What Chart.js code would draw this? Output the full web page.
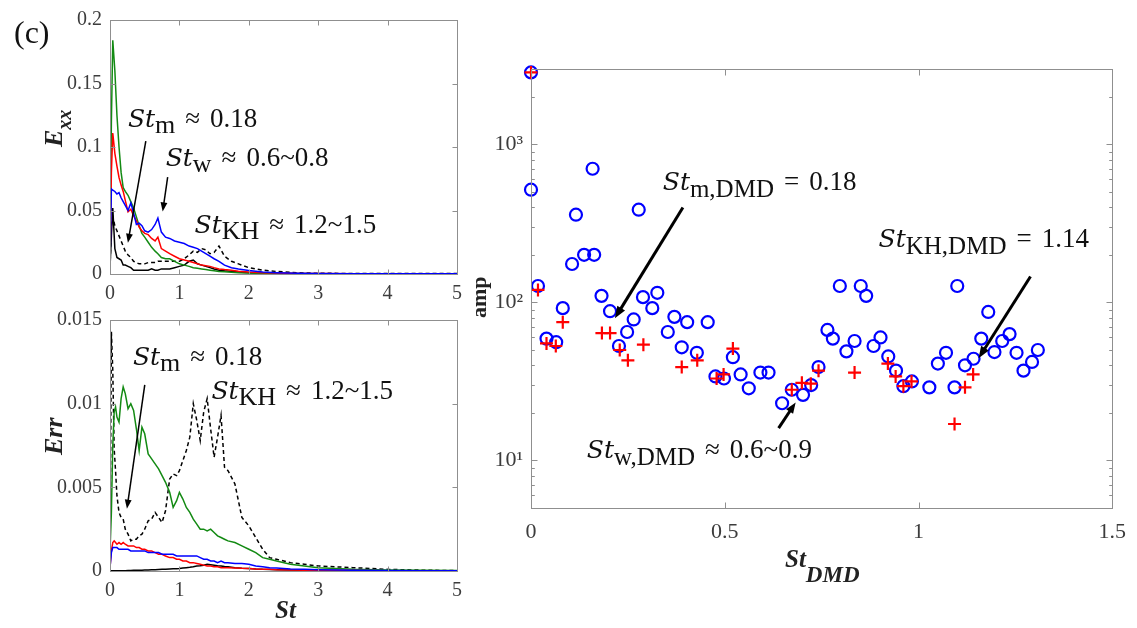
<!DOCTYPE html>
<html><head><meta charset="utf-8">
<script src="https://cdn.jsdelivr.net/npm/chart.js@4/dist/chart.umd.min.js"></script>
<style>
html,body{margin:0;padding:0;background:#fff;width:1137px;height:628px;overflow:hidden;position:relative}
canvas{position:absolute}
#c1{left:0;top:0}
#c2{left:0;top:300px}
#c3{left:460px;top:0}
</style></head><body>
<canvas id="c1" width="470" height="310"></canvas>
<canvas id="c2" width="470" height="328"></canvas>
<canvas id="c3" width="677" height="628"></canvas>
<script>
// ---------- data ----------
const ST_TOP = [0,0.02,0.04,0.07,0.10,0.13,0.16,0.19,0.22,0.26,0.30,0.34,0.38,0.42,0.46,0.50,0.55,0.60,0.65,0.69,0.74,0.80,0.86,0.93,1.00,1.07,1.14,1.20,1.26,1.32,1.38,1.44,1.50,1.57,1.65,1.75,1.85,2.0,2.2,2.4,2.7,3.0,3.5,4.0,4.5,5.0];
const EXX_GREEN = [0.015,0.12,0.184,0.160,0.125,0.100,0.080,0.068,0.065,0.062,0.057,0.052,0.045,0.038,0.032,0.029,0.025,0.021,0.018,0.016,0.013,0.012,0.012,0.010,0.008,0.007,0.006,0.005,0.0045,0.004,0.0035,0.003,0.0025,0.002,0.0017,0.0013,0.001,0.0008,0.0005,0.0004,0.0003,0.0002,0.0001,0.0001,0.0001,0.0001];
const EXX_RED = [0.01,0.08,0.111,0.095,0.085,0.076,0.070,0.065,0.058,0.049,0.051,0.046,0.042,0.037,0.034,0.032,0.031,0.028,0.026,0.029,0.020,0.018,0.016,0.014,0.012,0.011,0.010,0.009,0.008,0.007,0.0065,0.006,0.005,0.004,0.0035,0.003,0.0022,0.0015,0.001,0.0007,0.0004,0.0003,0.0002,0.0001,0.0001,0.0001];
const EXX_BLUE = [0.008,0.067,0.066,0.065,0.063,0.064,0.060,0.057,0.054,0.050,0.056,0.048,0.039,0.040,0.038,0.034,0.033,0.035,0.039,0.044,0.033,0.029,0.028,0.026,0.025,0.024,0.022,0.021,0.020,0.018,0.016,0.014,0.012,0.010,0.007,0.005,0.004,0.0028,0.0015,0.001,0.0006,0.0004,0.0002,0.0001,0.0001,0.0001];
const EXX_BLACK = [0.005,0.03,0.052,0.020,0.013,0.012,0.011,0.007,0.007,0.006,0.005,0.003,0.003,0.003,0.003,0.003,0.003,0.004,0.003,0.003,0.004,0.004,0.004,0.005,0.006,0.007,0.010,0.011,0.008,0.007,0.006,0.005,0.004,0.003,0.0025,0.002,0.0015,0.001,0.0006,0.0004,0.0002,0.0001,0.0001,0.0001,0.0001,0.0001];
const EXX_DASH = [0.005,0.04,0.045,0.038,0.034,0.030,0.026,0.022,0.018,0.015,0.013,0.010,0.009,0.008,0.008,0.008,0.009,0.009,0.009,0.010,0.010,0.010,0.010,0.010,0.010,0.012,0.015,0.018,0.017,0.020,0.019,0.016,0.017,0.022,0.014,0.010,0.008,0.005,0.003,0.002,0.001,0.0006,0.0004,0.0003,0.0003,0.0003];

const ST_BOT = [0,0.02,0.04,0.06,0.08,0.10,0.13,0.16,0.19,0.22,0.26,0.30,0.34,0.38,0.42,0.46,0.50,0.55,0.60,0.65,0.70,0.75,0.80,0.86,0.91,0.96,1.00,1.05,1.10,1.15,1.20,1.25,1.30,1.35,1.40,1.45,1.50,1.55,1.60,1.65,1.70,1.80,1.90,2.00,2.10,2.20,2.30,2.40,2.60,2.80,3.00,3.50,4.00,4.50,5.00];
const ERR_GREEN = [0.0012,0.0035,0.0075,0.0095,0.0098,0.0092,0.0089,0.0103,0.0110,0.0106,0.0097,0.0100,0.0096,0.0085,0.0072,0.0086,0.0082,0.0070,0.0067,0.0064,0.0061,0.0057,0.0053,0.0047,0.0038,0.0042,0.0047,0.0043,0.0038,0.0035,0.0031,0.0028,0.0025,0.0025,0.0024,0.0025,0.0023,0.0021,0.0020,0.0019,0.0018,0.0017,0.0015,0.0013,0.0011,0.0008,0.0007,0.0006,0.0004,0.0003,0.0002,0.0001,0.00006,0.00004,0.00003];
const ERR_DASH = [0.0005,0.0143,0.0120,0.0073,0.0060,0.0045,0.0035,0.0032,0.0031,0.0025,0.0022,0.0018,0.0019,0.0019,0.0021,0.0022,0.0025,0.0030,0.0031,0.0035,0.0032,0.0029,0.0036,0.0055,0.0058,0.0057,0.0060,0.0066,0.0072,0.0080,0.0100,0.0090,0.0078,0.0095,0.0103,0.0085,0.0068,0.0080,0.0093,0.0062,0.0060,0.0052,0.0032,0.0027,0.0020,0.0013,0.0008,0.0007,0.0005,0.0004,0.0003,0.0002,0.0001,0.00005,0.00002];
const ERR_RED = [0.0002,0.0012,0.0017,0.0018,0.0017,0.0016,0.0017,0.0016,0.0017,0.0016,0.0015,0.0015,0.0015,0.0014,0.0014,0.0013,0.0013,0.0012,0.0012,0.0011,0.0010,0.0010,0.0009,0.0008,0.0008,0.0007,0.0007,0.0006,0.0006,0.0005,0.0005,0.00045,0.0004,0.00035,0.0003,0.0003,0.00025,0.00025,0.0002,0.0002,0.0002,0.00018,0.00016,0.00015,0.00012,0.0001,0.0001,0.00008,0.00006,0.00005,0.00004,0.00003,0.00002,0.00002,0.00002];
const ERR_BLUE = [0.0002,0.0011,0.0014,0.0014,0.0014,0.0014,0.0013,0.0013,0.0013,0.0013,0.0013,0.0012,0.0012,0.0012,0.0012,0.0012,0.0012,0.0011,0.0011,0.0011,0.0011,0.0010,0.0010,0.0010,0.0010,0.0009,0.0009,0.0009,0.0009,0.0009,0.0009,0.0009,0.0008,0.0007,0.0007,0.0006,0.0006,0.0005,0.0006,0.0005,0.0005,0.00045,0.00045,0.0004,0.0003,0.00025,0.0002,0.00018,0.00012,0.0001,0.00008,0.00005,0.00003,0.00002,0.00002];
const ERR_BLACK = [0.00002,0.00002,0.00002,0.00002,0.00002,0.00002,0.00002,0.00002,0.00002,0.00002,0.00003,0.00003,0.00004,0.00004,0.00005,0.00005,0.00006,0.00006,0.00007,0.00008,0.00009,0.0001,0.00011,0.00012,0.00013,0.00014,0.00015,0.00018,0.0002,0.00022,0.00025,0.0003,0.00032,0.00035,0.0004,0.00038,0.00035,0.00032,0.0003,0.00027,0.00025,0.0002,0.00017,0.00015,0.00012,0.0001,0.00009,0.00008,0.00006,0.00005,0.00004,0.00003,0.00002,0.00002,0.00002];

const DMD_ST_BLUE = [0,0,0.018,0.040,0.065,0.082,0.106,0.116,0.137,0.159,0.163,0.182,0.204,0.227,0.248,0.265,0.278,0.289,0.313,0.326,0.353,0.370,0.389,0.403,0.428,0.456,0.476,0.498,0.521,0.541,0.562,0.592,0.613,0.648,0.673,0.702,0.723,0.742,0.765,0.779,0.797,0.814,0.835,0.851,0.865,0.884,0.902,0.922,0.942,0.961,0.983,1.028,1.050,1.071,1.093,1.100,1.120,1.142,1.162,1.180,1.196,1.216,1.235,1.253,1.271,1.293,1.308];
const DMD_AMP_BLUE = [2855,517,127,59,56,92,175,359,200,701,200,110,88,53,65,78,386,108,92,115,65,81,52,75,48,75,34,33,45,35,28.6,36,36,23,28,26,30,39,67,59,127,49,57,127,110,53,60,45.5,37,29.5,31.6,29,41,48,29,127,40,44,59,87,48.5,57,63,48,37,42,50];
const DMD_ST_RED = [0,0.018,0.040,0.064,0.082,0.183,0.204,0.229,0.250,0.290,0.389,0.429,0.479,0.497,0.521,0.673,0.699,0.722,0.742,0.835,0.921,0.941,0.961,0.982,1.093,1.120,1.141];
const DMD_AMP_RED = [2855,120,55,53,75,64,64,50,43,54,39,43,33,35,51,28,31,30.6,37,36,41,34,29.5,31.6,17,29,35];

const ST_TICKS = [0,1,2,3,4,5];
const EXX_TICKS = [0,0.05,0.1,0.15,0.2];
const ERR_TICKS = [0,0.005,0.01,0.015];
const DMD_TICKS = [0,0.5,1,1.5];
const AMP_TICKS = [5,6,7,8,9,10,20,30,40,50,60,70,80,90,100,200,300,400,500,600,700,800,900,1000,2000,3000];
const AMP_LABELS = {10:'10\u00B9',100:'10\u00B2',1000:'10\u00B3'};

// ---------- styling ----------
const SERIF = '"Liberation Serif","Times New Roman",serif';
const MATHI = '"DejaVu Serif",serif';
const AXIS_COLOR = '#8f8f8f';
const TICK_COLOR = '#3c3c3c';
const GREEN = '#138a13', RED = '#ff0000', BLUE = '#0000ff', BLACK = '#000000';

function pts(xs, ys){ return xs.map((x,i)=>({x:x, y:ys[i]})); }
function lineDs(xs, ys, color, dash){
  return {data:pts(xs,ys), borderColor:color, borderWidth:1.5, pointRadius:0, tension:0, fill:false, borderDash:dash||[]};
}

function drawRich(ctx, x, y, parts, rot){
  ctx.save(); ctx.translate(x,y); if(rot) ctx.rotate(rot);
  ctx.textAlign='left'; ctx.textBaseline='alphabetic';
  let cx=0;
  parts.forEach(p=>{ cx += p.gap||0; ctx.font=p.font; ctx.fillStyle=p.color||'#111';
    ctx.fillText(p.t, cx, p.dy||0); cx += ctx.measureText(p.t).width; });
  ctx.restore();
}
function drawArrow(ctx, x0,y0,x1,y1,lw,head){
  const ang=Math.atan2(y1-y0,x1-x0);
  const bx=x1-Math.cos(ang)*head*0.8, by=y1-Math.sin(ang)*head*0.8;
  ctx.save(); ctx.strokeStyle='#000'; ctx.fillStyle='#000'; ctx.lineWidth=lw;
  ctx.beginPath(); ctx.moveTo(x0,y0); ctx.lineTo(bx,by); ctx.stroke();
  ctx.beginPath(); ctx.moveTo(x1,y1);
  ctx.lineTo(x1-Math.cos(ang)*head+Math.sin(ang)*head*0.38, y1-Math.sin(ang)*head-Math.cos(ang)*head*0.38);
  ctx.lineTo(x1-Math.cos(ang)*head-Math.sin(ang)*head*0.38, y1-Math.sin(ang)*head+Math.cos(ang)*head*0.38);
  ctx.closePath(); ctx.fill(); ctx.restore();
}
function isDecade(v){ const l=Math.log10(v); return Math.abs(l-Math.round(l))<1e-9; }

function makeDecor(cfg){
  return {
    id:'decor',
    afterDraw(chart){
      const ctx=chart.ctx, a=chart.chartArea, xs=chart.scales.x, ys=chart.scales.y;
      ctx.save();
      ctx.strokeStyle=AXIS_COLOR; ctx.lineWidth=1;
      const L=Math.round(a.left)+0.5, T=Math.round(a.top)+0.5, R=Math.round(a.right)+0.5, B=Math.round(a.bottom)+0.5;
      ctx.strokeRect(L,T,R-L,B-T);
      ctx.beginPath();
      xs.ticks.forEach(t=>{ const x=Math.round(xs.getPixelForValue(t.value))+0.5; const len=cfg.tick;
        ctx.moveTo(x,B); ctx.lineTo(x,B-len); ctx.moveTo(x,T); ctx.lineTo(x,T+len); });
      ys.ticks.forEach(t=>{ const y=Math.round(ys.getPixelForValue(t.value))+0.5;
        const len = cfg.log ? (isDecade(t.value)?cfg.tick:cfg.tick*0.55) : cfg.tick;
        ctx.moveTo(L,y); ctx.lineTo(L+len,y); ctx.moveTo(R,y); ctx.lineTo(R-len,y); });
      ctx.stroke();
      (cfg.arrows||[]).forEach(ar=>drawArrow(ctx, xs.getPixelForValue(ar.x0), ys.getPixelForValue(ar.y0), xs.getPixelForValue(ar.x1), ys.getPixelForValue(ar.y1), ar.lw, ar.head));
      (cfg.notes||[]).forEach(n=>drawRich(ctx, xs.getPixelForValue(n.x), ys.getPixelForValue(n.y), n.parts));
      (cfg.titles||[]).forEach(n=>drawRich(ctx, n.px, n.py, n.parts, n.rot));
      ctx.restore();
    }
  };
}

function linScale(min,max,ticksArr,fitFn,pad,size){
  return {type:'linear', min:min, max:max,
    afterBuildTicks:s=>{ s.ticks = ticksArr.map(v=>({value:v})); },
    afterFit:fitFn,
    grid:{display:false, drawTicks:false}, border:{display:false},
    ticks:{padding:pad, color:TICK_COLOR, font:{family:SERIF, size:size}, autoSkip:false, maxRotation:0, callback:v=>String(v)}};
}

const ST_SUB = (sub, rest, dyS)=>[
  {t:'St', font:'italic 25px '+MATHI},
  {t:sub, font:'26px '+SERIF, dy:dyS||6},
  {t:'\u2248', font:'27px '+SERIF, gap:10},
  {t:rest, font:'27px '+SERIF, gap:10}
];

// ---------- chart 1: E_xx ----------
new Chart(document.getElementById('c1'), {
  type:'line',
  data:{datasets:[
    lineDs(ST_TOP, EXX_BLUE, BLUE),
    lineDs(ST_TOP, EXX_RED, RED),
    lineDs(ST_TOP, EXX_GREEN, GREEN),
    lineDs(ST_TOP, EXX_DASH, BLACK, [4,3]),
    lineDs(ST_TOP, EXX_BLACK, BLACK)
  ]},
  options:{responsive:false, animation:false, devicePixelRatio:1,
    layout:{padding:{top:14,right:11,left:0,bottom:0}},
    plugins:{legend:{display:false}, tooltip:{enabled:false}},
    scales:{
      x:linScale(0,5,ST_TICKS,s=>{s.height=36},8,20),
      y:linScale(0,0.2,EXX_TICKS,s=>{s.width=110},8,20)
    }},
  plugins:[makeDecor({tick:5,
    notes:[
      {x:0.258, y:0.1154, parts:ST_SUB('m','0.18')},
      {x:0.802, y:0.0854, parts:ST_SUB('w','0.6~0.8')},
      {x:1.218, y:0.0323, parts:ST_SUB('KH','1.2~1.5')}
    ],
    arrows:[
      {x0:0.516,y0:0.1046,x1:0.258,y1:0.0246,lw:1.5,head:9},
      {x0:0.831,y0:0.0762,x1:0.759,y1:0.0492,lw:1.5,head:9}
    ],
    titles:[
      {px:14, py:43, parts:[{t:'(c)', font:'32px '+SERIF, color:'#111'}]},
      {px:62, py:147, rot:-Math.PI/2, parts:[{t:'E', font:'bold italic 26px '+SERIF, color:'#222'},{t:'xx', font:'bold italic 20px '+SERIF, dy:9, color:'#222'}]}
    ]})]
});

// ---------- chart 2: Err ----------
new Chart(document.getElementById('c2'), {
  type:'line',
  data:{datasets:[
    lineDs(ST_BOT, ERR_BLUE, BLUE),
    lineDs(ST_BOT, ERR_RED, RED),
    lineDs(ST_BOT, ERR_GREEN, GREEN),
    lineDs(ST_BOT, ERR_DASH, BLACK, [4,3]),
    lineDs(ST_BOT, ERR_BLACK, BLACK)
  ]},
  options:{responsive:false, animation:false, devicePixelRatio:1,
    layout:{padding:{top:12,right:11,left:0,bottom:0}},
    plugins:{legend:{display:false}, tooltip:{enabled:false}},
    scales:{
      x:linScale(0,5,ST_TICKS,s=>{s.height=57},8,20),
      y:linScale(0,0.015,ERR_TICKS,s=>{s.width=110},8,20)
    }},
  plugins:[makeDecor({tick:5,
    notes:[
      {x:0.33, y:0.01233, parts:ST_SUB('m','0.18')},
      {x:1.461, y:0.01029, parts:ST_SUB('KH','1.2~1.5')}
    ],
    arrows:[
      {x0:0.501,y0:0.01112,x1:0.244,y1:0.00372,lw:1.5,head:9}
    ],
    titles:[
      {px:62, py:155, rot:-Math.PI/2, parts:[{t:'Err', font:'bold italic 26px '+SERIF, color:'#222'}]},
      {px:275, py:318, parts:[{t:'St', font:'bold italic 25px '+SERIF, color:'#222'}]}
    ]})]
});

// ---------- chart 3: DMD amplitudes ----------
const DMD_SUB = (sub, op, rest)=>[
  {t:'St', font:'italic 25px '+MATHI},
  {t:sub, font:'25px '+SERIF, dy:7},
  {t:op, font:'27px '+SERIF, gap:10},
  {t:rest, font:'27px '+SERIF, gap:10}
];
new Chart(document.getElementById('c3'), {
  type:'scatter',
  data:{datasets:[
    {data:pts(DMD_ST_RED, DMD_AMP_RED), pointStyle:'cross', pointRadius:6.5, borderWidth:2.2, borderColor:RED, backgroundColor:RED, order:0, clip:false},
    {data:pts(DMD_ST_BLUE, DMD_AMP_BLUE), pointStyle:'circle', pointRadius:6, borderWidth:2.2, borderColor:BLUE, backgroundColor:'rgba(0,0,0,0)', order:1, clip:false}
  ]},
  options:{responsive:false, animation:false, devicePixelRatio:1,
    layout:{padding:{top:69,right:24,left:0,bottom:0}},
    plugins:{legend:{display:false}, tooltip:{enabled:false}},
    scales:{
      x:linScale(0,1.5,DMD_TICKS,s=>{s.height=120},11,22),
      y:{type:'logarithmic', min:5, max:3000,
        afterBuildTicks:s=>{ s.ticks = AMP_TICKS.map(v=>({value:v})); },
        afterFit:s=>{s.width=71},
        grid:{display:false, drawTicks:false}, border:{display:false},
        ticks:{padding:8, color:TICK_COLOR, font:{family:SERIF,size:22}, autoSkip:false, callback:v=>AMP_LABELS[v]||''}}
    }},
  plugins:[makeDecor({tick:6, log:true,
    notes:[
      {x:0.340, y:512, parts:DMD_SUB('m,DMD','=','0.18')},
      {x:0.897, y:223, parts:DMD_SUB('KH,DMD','=','1.14')},
      {x:0.144, y:10.4, parts:DMD_SUB('w,DMD','\u2248','0.6~0.9')}
    ],
    arrows:[
      {x0:0.392,y0:399,x1:0.2165,y1:79.3,lw:3,head:12},
      {x0:1.289,y0:146,x1:1.155,y1:44.3,lw:3,head:12},
      {x0:0.639,y0:16.0,x1:0.683,y1:23.3,lw:3,head:11}
    ],
    titles:[
      {px:26, py:318, rot:-Math.PI/2, parts:[{t:'amp', font:'bold 22px '+SERIF, color:'#222'}]},
      {px:325, py:567, parts:[{t:'St', font:'bold italic 25px '+SERIF, color:'#222'},{t:'DMD', font:'bold italic 23px '+SERIF, dy:15, color:'#222'}]}
    ]})]
});
</script>
</body></html>
